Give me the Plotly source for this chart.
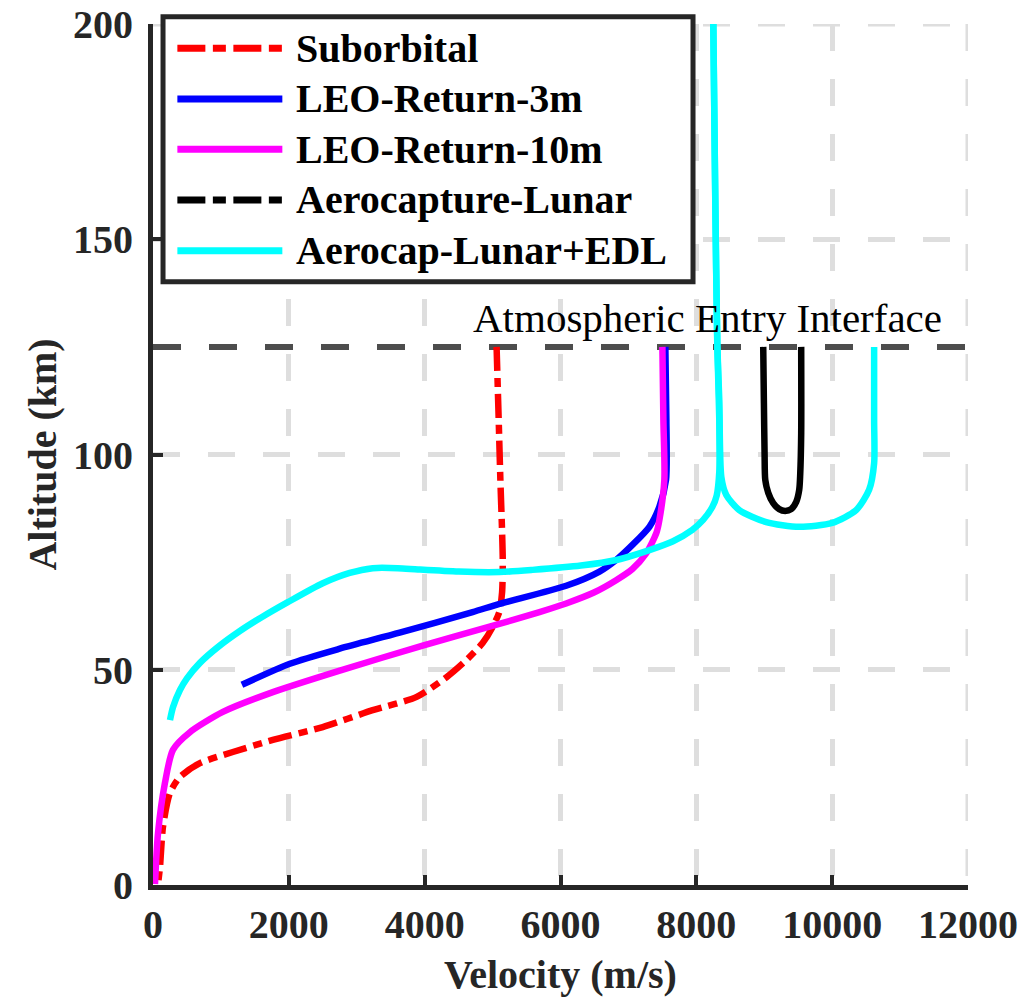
import plotly.graph_objects as go

# ---------------- data (velocity m/s, altitude km) ----------------
sub_v = [5059, 5090, 5115, 5140, 5150, 5140, 5100, 5000, 4853, 4618, 4324, 3882, 3235, 2500, 1765, 1176, 691, 397, 250, 147, 103, 74]
sub_alt = [125.0, 108, 94, 82, 75, 68, 63.5, 59.9, 56.2, 52.3, 48.3, 43.7, 40.6, 36.7, 33.7, 30.9, 28.3, 25.1, 21.4, 13.5, 4.2, 0.2]

leo3_v = [1309, 2015, 2750, 3632, 4706, 5103, 6083, 6574, 6819, 7059, 7309, 7456, 7554, 7559, 7544]
leo3_alt = [46.5, 51.4, 54.9, 58.6, 63.4, 65.3, 69.5, 72.8, 75.5, 79.0, 83.2, 87.9, 94.1, 108, 125.0]

leo10_v = [29, 74, 176, 294, 544, 1029, 1765, 2750, 3971, 4956, 5691, 6083, 6500, 6819, 7059, 7260, 7412, 7456, 7529, 7515, 7500]
leo10_alt = [0.2, 12.1, 23.7, 31.4, 35.5, 40.2, 44.8, 49.8, 55.6, 60.0, 63.4, 65.4, 68.0, 70.8, 73.4, 77.0, 81.8, 84.8, 94.1, 108, 125.0]

aero_v = [8985, 8995, 9005, 9015, 9059, 9132, 9220, 9309, 9397, 9471, 9515, 9529, 9544, 9544]
aero_alt = [125.0, 112, 100, 94.1, 91.1, 88.7, 87.3, 86.9, 87.3, 89.0, 91.8, 95.2, 105, 125.0]

edl_cap_v = [10618, 10618, 10618, 10544, 10353, 10000, 9515, 9029, 8632, 8441, 8368, 8338, 8309, 8279, 8250]
edl_cap_alt = [125.0, 108, 98, 91.8, 87.1, 84.1, 83.2, 84.3, 87.1, 90.6, 94.8, 112.7, 125.4, 159, 200]

edl_v = [8250, 8279, 8309, 8338, 8338, 8300, 8235, 8100, 7941, 7650, 7309, 6824, 6300, 5588, 5103, 4500, 3900, 3603, 3235, 2897, 2500, 1985, 1600, 1279, 950, 691, 500, 397, 294, 250]
edl_alt = [200, 159, 125.4, 108, 96, 90.5, 87.8, 84.8, 82.5, 79.8, 77.8, 75.5, 74.2, 73.2, 72.7, 72.8, 73.3, 73.6, 73.6, 72.5, 70.1, 65.7, 62.2, 59.0, 55.2, 51.6, 48.0, 45.3, 41.3, 38.3]

entry_interface_alt = 125
entry_label = "Atmospheric Entry Interface"

x_ticks = [0, 2000, 4000, 6000, 8000, 10000, 12000]
x_tick_labels = ["0", "2000", "4000", "6000", "8000", "10000", "12000"]
y_ticks = [0, 50, 100, 150, 200]
y_tick_labels = ["0", "50", "100", "150", "200"]

series_names = ["Suborbital", "LEO-Return-3m", "LEO-Return-10m", "Aerocapture-Lunar", "Aerocap-Lunar+EDL"]
series_colors = ["#ff0000", "#0000ff", "#ff00ff", "#000000", "#00ffff"]
legend_dashes = ["28px,7.5px,13px,7.5px", "solid", "solid", "28px,7.5px,13px,7.5px", "solid"]

FONT = "Liberation Serif, Times New Roman, serif"
AXC = "#262626"
GRIDC = "#dedede"
GRIDDASH = "27px,28px"
LW = 6.5

fig = go.Figure()

def add(v, a, name, color, dash="solid"):
    fig.add_trace(go.Scatter(x=v, y=a, mode="lines", name=name, showlegend=False,
                             line=dict(color=color, width=LW, dash=dash, shape="spline", smoothing=0.7)))

add(sub_v, sub_alt, series_names[0], series_colors[0], "24px,7px,9px,7px")
add(leo3_v, leo3_alt, series_names[1], series_colors[1])
add(leo10_v, leo10_alt, series_names[2], series_colors[2])
add(aero_v, aero_alt, series_names[3], series_colors[3])
add(edl_cap_v, edl_cap_alt, series_names[4], series_colors[4])
add(edl_v, edl_alt, series_names[4], series_colors[4])

shapes = []
annotations = []

# grid lines at the far edges (top and right), which plotly omits
shapes.append(dict(type="line", xref="x", yref="y", x0=x_ticks[0], x1=x_ticks[-1], y0=y_ticks[-1], y1=y_ticks[-1],
                   line=dict(color=GRIDC, width=5, dash=GRIDDASH), layer="between"))
shapes.append(dict(type="line", xref="x", yref="y", x0=x_ticks[-1], x1=x_ticks[-1], y0=y_ticks[-1], y1=y_ticks[0],
                   line=dict(color=GRIDC, width=5, dash=GRIDDASH), layer="between"))

# entry interface line
shapes.append(dict(type="line", xref="x", yref="y", x0=x_ticks[0], x1=x_ticks[-1],
                   y0=entry_interface_alt, y1=entry_interface_alt,
                   line=dict(color="#4d4d4d", width=6, dash="28px,28px"), layer="between"))
annotations.append(dict(x=11650, y=entry_interface_alt, xref="x", yref="y", text=entry_label,
                        showarrow=False, xanchor="right", yanchor="bottom", yshift=4,
                        font=dict(family=FONT, size=41, color="#000000")))

# manual legend (large line samples like the reference)
shapes.append(dict(type="rect", xref="paper", yref="paper", x0=0.0123, x1=0.6626, y0=0.7007, y1=1.0085,
                   fillcolor="white", line=dict(color=AXC, width=5), layer="above"))
row_y = [0.9718, 0.9129, 0.8545, 0.7956, 0.7367]
for name, color, dash, yy in zip(series_names, series_colors, legend_dashes, row_y):
    shapes.append(dict(type="line", xref="paper", yref="paper", x0=0.0299, x1=0.1587, y0=yy, y1=yy,
                       line=dict(color=color, width=7, dash=dash), layer="above"))
    annotations.append(dict(x=0.173, y=yy, xref="paper", yref="paper", text=name, showarrow=False,
                            xanchor="left", yanchor="middle",
                            font=dict(family=FONT, size=40, color="#000000", weight="bold")))

axis_common = dict(showline=True, linecolor=AXC, linewidth=5, ticks="inside", ticklen=10, tickwidth=4,
                   tickcolor=AXC, showgrid=True, gridcolor=GRIDC, gridwidth=5, griddash=GRIDDASH,
                   zeroline=False, mirror=False, ticklabeloverflow="allow",
                   tickfont=dict(family=FONT, size=40, color=AXC, weight="bold"))

fig.update_xaxes(range=[0, 12000], tickvals=x_ticks, ticktext=x_tick_labels,
                 title=dict(text="Velocity (m/s)", font=dict(family=FONT, size=40, color=AXC, weight="bold"), standoff=15),
                 **axis_common)
fig.update_yaxes(range=[0, 200], tickvals=y_ticks, ticktext=y_tick_labels, ticklabelstandoff=7,
                 title=dict(text="Altitude (km)", font=dict(family=FONT, size=40, color=AXC, weight="bold"), standoff=6),
                 **axis_common)

fig.update_layout(width=1033, height=1002, margin=dict(l=145, r=73, t=16, b=125, autoexpand=False),
                  plot_bgcolor="white", paper_bgcolor="white", showlegend=False,
                  shapes=shapes, annotations=annotations,
                  font=dict(family=FONT, size=40, color=AXC))

fig.write_html("out.html")
